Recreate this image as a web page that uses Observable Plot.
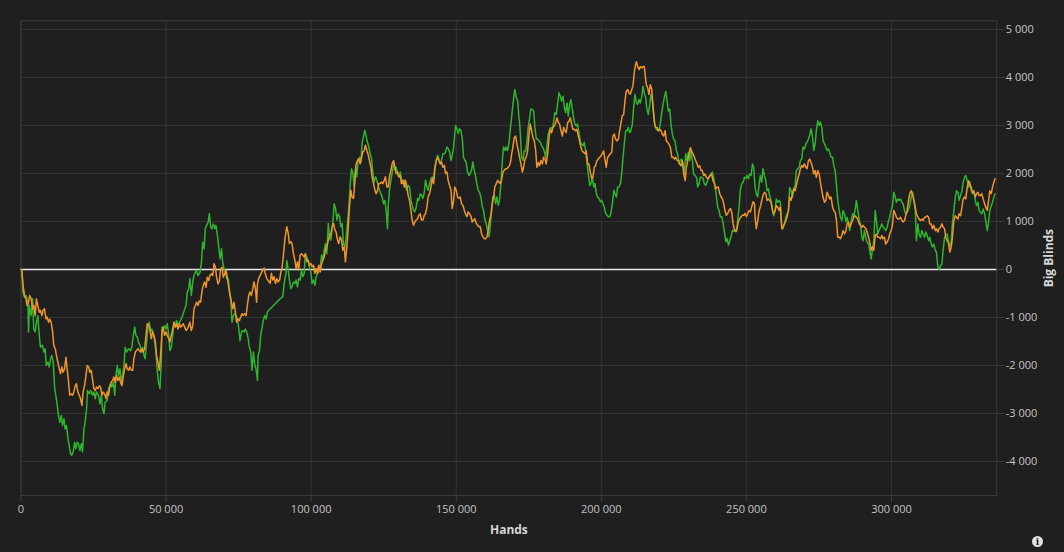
<!DOCTYPE html>
<html>
<head>
<meta charset="utf-8">
<script src="https://cdn.jsdelivr.net/npm/d3@7"></script>
<script src="https://cdn.jsdelivr.net/npm/@observablehq/plot@0.6"></script>
<style>
  html, body { margin: 0; padding: 0; background: #1f1f1f; }
  #chart svg { display: block; }
</style>
</head>
<body>
<div id="chart"></div>
<script>
const xTicks = [0, 50000, 100000, 150000, 200000, 250000, 300000];
const yTicks = [-4000, -3000, -2000, -1000, 0, 1000, 2000, 3000, 4000, 5000];
const xLabel = "Hands";
const yLabel = "Big Blinds";

const greenHands = [0,300,700,1200,1700,2400,2600,2900,3500,4000,4400,4900,5300,5800,6300,6700,7400,7900,8300,8700,9300,9700,10200,10600,11100,11600,12000,12500,12900,13400,13900,14300,14800,15200,15700,16200,16600,17100,17500,18000,18500,18900,19400,19800,20300,20800,21200,21700,22100,22600,22900,23500,24000,24700,25100,25600,26000,26700,27200,27700,28100,28600,29000,29700,30200,30900,31300,31800,32300,32700,33200,33600,34100,34600,35000,35500,35900,36400,37100,37800,38200,38700,39200,39600,40100,40500,41000,41500,41900,42400,42800,43300,43800,44200,44700,45100,45600,46100,46500,47000,47400,47900,48400,48600,49000,49500,50000,50400,50900,51300,51800,52300,52700,53200,53600,54100,54600,55000,55500,55900,56400,56900,57300,57800,58200,58700,59200,59600,60100,60500,61000,61700,62200,62600,63100,63500,64000,64500,64900,65400,65800,66300,66800,67200,67700,68100,68600,69100,69500,70000,70400,70900,71400,71800,72300,72700,73200,73700,74100,74600,75000,75500,76000,76400,76900,77300,77800,78300,78700,79200,79600,80100,80600,81000,81500,81700,82200,82600,83100,83500,84000,84500,84900,85400,
89500,90200,90700,91300,91600,92100,92500,93000,93400,93900,94400,94800,95300,95700,96200,96700,97100,97600,98000,98500,99000,99400,99900,100300,100800,101300,101700,102200,102600,103100,103600,104000,104500,104900,105400,105900,106300,106800,107200,107700,107900,108400,108900,109300,109800,110200,110700,111100,111600,112100,112500,113000,113400,113900,114400,114800,115300,115700,116200,116700,117100,117600,118000,118500,119000,119400,119900,120300,120800,121300,121700,122200,122600,123100,123600,124000,124500,124900,125400,125900,126300,126600,127000,127500,127900,128400,128900,129300,129800,130200,130700,131100,131600,132100,132500,133000,133400,133900,134400,134800,135300,135700,136200,136700,137100,137600,138000,138500,139000,139400,139900,140300,140800,141300,141700,142200,142600,143100,143600,144000,144500,144900,145400,145900,146300,146800,147200,147700,148200,148600,149100,149500,149800,150200,150700,151100,151600,152100,152500,153000,153400,153900,154400,154800,155300,155700,156200,156700,157100,157600,158000,158500,159000,159400,159900,160300,160800,161300,161700,162200,162600,163100,163600,164000,164500,164900,165400,165900,166300,166800,167200,167700,168200,168600,
169300,169800,170200,170700,171200,171600,171800,172100,172500,173000,173400,173900,174400,174800,175300,175700,176200,176700,177100,177600,178000,178500,179000,179400,179900,180300,180800,181300,181700,182200,182600,183100,183600,184000,184500,184900,185400,185900,186300,186800,187200,187700,188200,188600,189100,189500,190000,190500,190900,191400,191800,192300,192800,193200,193700,194100,194600,195100,195500,196000,196400,196900,197400,197800,198300,198700,199200,199700,200100,200600,201000,201500,202000,202400,202900,203300,203800,204300,204700,205200,205600,206100,206600,207000,207500,207900,208400,208900,209300,209800,210200,210700,211100,211600,212100,212500,213000,213400,213900,214400,214800,215300,215700,216200,216700,217100,217600,218000,218500,219000,219400,219900,220300,220800,221300,221700,222200,222600,223100,223600,224000,224500,224900,225400,225900,226300,226800,227200,227700,228200,228600,229100,229500,230000,230500,230900,231400,231800,232300,232800,233200,233700,234100,234600,235100,235500,236000,236400,236900,237400,237800,238300,238700,239200,239700,240100,240600,241000,241500,242000,242400,242900,243300,243800,244300,244700,245200,245600,246100,246600,247000,247500,247900,248400,248900,249300,249800,250200,250700,251100,251600,252100,252500,
253000,253400,253900,254400,254800,255300,255700,256200,256700,257100,257600,258000,258500,259000,259400,259900,260300,260800,261300,261700,262200,262600,263100,263600,264000,264500,264900,265400,265900,266300,266800,267200,267700,268200,268600,269100,269500,270000,270500,270900,271400,271800,272300,272800,273200,273700,274100,274600,275100,275500,276000,276400,276900,277400,277800,278300,278700,279200,279700,280100,280600,281000,281500,282000,282400,282900,283300,283800,284300,284700,285200,285600,286100,286600,287000,287500,287900,288400,288900,289300,289800,290200,290700,291200,291600,292100,292500,293000,293400,293900,294400,294800,295300,295700,296200,296700,297100,297600,298000,298500,299000,299400,299900,300300,300800,301300,301700,302200,302600,303100,303600,304000,304500,304900,305400,305900,306300,306800,307200,307700,308200,308600,309100,309500,310000,310500,310900,311400,311800,312300,312800,313200,313700,314100,314600,315100,315500,316000,316400,316900,317400,317800,318300,318700,319200,319700,320100,320600,321000,321500,322000,322400,322900,323300,323800,324300,324700,325200,325600,326100,326600,327000,327500,327900,328400,328900,329300,329800,330200,330700,331100,331600,332100,332500,333000,333400,333900,334400,334800,335300,335700];

const greenBB = [0,-20,-470,-580,-540,-680,-1300,-750,-960,-610,-1240,-1300,-1100,-960,-1370,-1620,-1580,-1720,-1650,-2000,-1930,-2030,-1860,-1790,-1930,-2480,-2620,-2830,-3040,-3180,-3040,-3250,-3110,-3320,-3250,-3530,-3660,-3840,-3870,-3800,-3600,-3730,-3600,-3630,-3770,-3630,-3800,-3320,-3180,-2900,-2520,-2590,-2520,-2620,-2550,-2690,-2550,-2620,-2800,-2620,-2900,-3000,-2760,-2730,-2480,-2380,-2450,-2350,-2620,-2210,-2000,-2210,-2070,-2350,-2210,-2000,-1620,-1720,-1650,-1690,-1620,-1370,-1200,-1370,-1410,-1510,-1580,-1720,-1620,-1790,-1860,-1510,-1170,-1100,-1300,-1240,-1340,-1510,-1720,-2140,-2350,-2480,-1860,-1200,-1240,-1170,-1240,-1130,-1370,-1690,-1620,-1370,-1100,-1200,-1060,-1170,-1100,-1060,-990,-920,-820,-750,-470,-400,-190,-540,-260,-125,-60,-20,-125,-60,150,570,430,850,920,990,1160,880,850,950,850,920,710,500,220,430,150,10,-60,-190,-190,-400,-610,-1100,-960,-920,-960,-1030,-1200,-1480,-1300,-1270,-1300,-1240,-1300,-1440,-1620,-1720,-2100,-1720,-2000,-2070,-2310,-1790,-1690,-1370,-1200,-1060,-960,-1030,-890,-850,
-600,-570,-290,-80,190,-10,-220,-400,-360,-260,-290,-220,-360,-190,-220,-10,-150,-80,330,260,160,55,-50,-290,-220,-330,-150,-80,-50,55,300,190,400,540,330,960,680,610,820,1160,1370,1270,1030,1160,1100,890,960,540,470,680,960,1300,1720,2100,2000,1720,2130,1930,2270,2340,2240,2650,2760,2900,2760,2650,2550,2410,2310,2000,1820,1930,1860,1750,1650,1580,1510,1370,1440,1200,850,1370,1650,1860,2000,2200,2070,2130,2000,1930,2030,1890,1790,1860,1720,1650,1750,1720,1440,1340,1230,1200,1300,1480,1440,1580,1550,1480,1610,1860,1720,1650,1790,1890,1930,1860,2130,2270,2380,2310,2200,2270,2410,2410,2450,2550,2520,2450,2270,2380,2550,2830,3000,2930,2830,2930,2900,2720,2340,2270,2240,2030,1960,2000,2070,2240,2070,1930,1790,1650,1610,1510,1300,1230,1030,960,820,680,890,1230,1510,1550,1370,1510,1340,1440,1790,2270,2550,2480,2550,2480,2650,2900,
3300,3580,3750,3580,3510,3160,3090,2820,2340,2270,2470,2470,2680,2960,3160,3340,3340,3300,2960,2720,2720,2680,2650,2580,2540,2470,2340,2610,2820,2920,2960,2920,3090,3270,3230,3440,3680,3610,3510,3610,3400,3270,3470,3200,3440,3540,3340,3130,3030,2990,3030,2850,2650,2610,2580,2650,2470,2200,1990,1750,1790,1920,1720,1790,1580,1510,1480,1410,1440,1370,1300,1170,1130,1100,1100,1170,1370,1650,1580,1510,1720,1720,1790,1990,2340,2610,2890,2890,2960,2850,2890,3030,3340,3650,3470,3440,3540,3470,3580,3820,3680,3580,3340,3230,3440,3650,3540,3300,2990,2920,2890,2890,3030,3270,3440,3580,3710,3540,3300,3340,3030,2820,2720,2680,2470,2410,2200,2270,2300,2200,1990,2410,2270,2440,2270,2470,2270,1990,1960,1920,1720,1790,1920,1920,1890,1790,1750,1820,1890,1960,1990,2030,1920,1720,1510,1300,1230,1100,1100,960,790,580,650,510,610,680,820,790,820,790,1030,1300,1650,1790,1820,1920,1890,1960,1890,1990,1960,2200,2130,
1710,1580,1510,1780,1960,1820,2100,1960,1850,1640,1680,1540,1440,1230,1120,1230,1470,1400,1440,1400,880,850,950,1090,1160,1230,1710,1640,1510,1680,1750,2060,2100,2130,2270,2300,2550,2510,2620,2650,2720,2790,2930,2760,2480,2620,2890,3100,3000,3070,2960,2690,2620,2550,2480,2510,2440,2340,2340,2170,2060,1780,1440,1230,1090,1020,1230,1160,990,1090,950,810,1020,1160,1090,1260,1440,1230,1020,950,670,600,810,640,570,530,400,220,400,600,1230,1020,740,810,880,950,880,850,810,880,1020,1090,1230,1300,1610,1510,1400,1470,1440,1470,1400,1370,1230,1160,1190,1260,1330,1510,1610,1470,1230,600,950,740,670,810,740,670,780,710,600,670,530,470,530,400,360,50,0,80,120,400,670,710,740,570,470,600,950,1230,1510,1640,1610,1440,1540,1640,1820,1920,1960,1850,1710,1820,1640,1580,1610,1440,1330,1400,1230,1190,1160,1260,1160,1020,810,950,1230,1330,1400,1510,1580];

const orangeHands = [0,300,700,1200,1700,2100,2600,3000,3500,4000,4400,4900,5300,5800,6300,6700,7200,7600,8100,8600,9000,9500,9900,10400,10900,11300,11800,12200,12700,13200,13600,14100,14500,15000,15500,15900,16400,16800,17300,17800,18200,18700,19100,19600,20100,20500,21000,21400,21900,22400,22800,23300,23700,24200,24700,25100,25600,26000,26500,27000,27400,27900,28300,28800,29300,29700,30200,30600,31100,31600,32000,32500,32900,33400,33900,34300,34800,35200,35700,36200,36600,37100,37500,38000,38500,38900,39400,39800,40300,40800,41200,41700,42100,42600,43100,43500,44000,44400,44900,45400,45800,46300,46700,47200,47700,48100,48600,49000,49500,50000,50400,50900,51300,51800,52300,52700,53200,53600,54100,54600,55000,55500,55900,56400,56900,57300,57800,58200,58700,59200,59600,60100,60500,61000,61500,61900,62400,62800,63300,63800,64200,64700,65100,65600,66100,66500,67000,67400,67900,68400,68800,69300,69700,70200,70700,71100,71600,72000,72500,73000,73400,73900,74300,74800,75300,75700,76200,76600,77100,77600,78000,78500,78900,79400,79900,80300,80800,81200,81500,81900,82400,82900,83300,83800,84200,84700,85200,
85900,86300,86800,87200,87700,88200,88600,89100,89500,90000,90500,90900,91400,91600,92100,92500,93000,93400,93900,94400,94800,95300,95700,96200,96700,97100,97600,98000,98500,99000,99400,99900,100300,100800,101300,101700,102200,102600,103100,103600,104000,104500,104900,105400,105900,106300,106800,107200,107700,108200,108600,109100,109500,110000,110500,110900,111400,111800,112300,112800,113200,113700,114100,114600,115100,115500,116000,116400,116900,117400,117800,118300,118700,119200,119700,120100,120600,121000,121500,122000,122400,122900,123300,123800,124300,124700,125200,125600,126100,126600,127000,127500,127900,128400,128900,129300,129800,130200,130700,131100,131600,132100,132500,133000,133400,133900,134400,134800,135300,135700,136200,136700,137100,137600,138000,138500,139000,139400,139900,140300,140800,141300,141700,142200,142600,143100,143600,144000,144500,144900,145400,145900,146300,146800,147200,147700,148200,148600,149100,149500,150000,150500,150900,151400,151800,152300,152800,153200,153700,154100,154600,155100,155500,156000,156400,156900,157400,157800,158300,158700,159200,159700,160100,160600,161000,161500,162000,162400,162900,163300,163800,164300,164700,165200,165600,166100,166600,167000,167500,167900,168400,168800,
169100,169500,170000,170500,170900,171400,171800,172300,172800,173200,173700,174100,174600,175100,175500,176000,176400,176900,177400,177800,178300,178700,179200,179700,180100,180600,181000,181500,182000,182400,182900,183300,183800,184300,184700,185200,185600,186100,186600,187000,187500,187900,188400,188900,189300,189800,190200,190700,191100,191600,192100,192500,193000,193400,193900,194400,194800,195300,195700,196200,196700,197100,197600,198000,198500,199000,199400,199900,200300,200800,201300,201700,202200,202600,203100,203600,204000,204500,204900,205400,205900,206300,206800,207200,207700,208200,208600,209100,209500,210000,210500,210900,211400,211800,212100,212500,213000,213400,213900,214400,214800,215100,215500,216000,216400,216900,217400,217800,218300,218700,219200,219700,220100,220600,221000,221500,222000,222400,222900,223300,223800,224300,224700,225200,225600,226100,226600,227000,227500,227900,228400,228900,229300,229800,230200,230700,231100,231600,232100,232500,233000,233400,233900,234400,234800,235300,235700,236200,236700,237100,237600,238000,238500,239000,239400,239900,240300,240800,241300,241700,242200,242600,243100,243600,244000,244500,245000,245400,245900,246300,246800,247200,247700,248200,248600,249100,249500,250000,250500,250900,251400,251800,252300,252800,
253000,253400,253900,254400,254800,255300,255700,256200,256700,257100,257600,258000,258500,259000,259400,259900,260300,260800,261300,261700,262200,262600,263100,263600,264000,264500,264900,265400,265900,266300,266800,267200,267700,268200,268600,269100,269500,270000,270500,270900,271400,271800,272300,272800,273200,273700,274100,274600,275100,275500,276000,276400,276900,277400,277800,278300,278700,279200,279700,280100,280600,281000,281500,282000,282400,282900,283300,283800,284300,284700,285200,285600,286100,286600,287000,287500,287900,288400,288900,289300,289800,290200,290700,291200,291600,292100,292500,293000,293400,293900,294400,294800,295300,295700,296200,296700,297100,297600,298000,298500,299000,299400,299900,300300,300800,301300,301700,302200,302600,303100,303600,304000,304500,304900,305400,305900,306300,306800,307200,307700,308200,308600,309100,309500,310000,310500,310900,311400,311800,312300,312800,313200,313700,314100,314600,315100,315500,316000,316400,316900,317400,317800,318300,318700,319200,319700,320100,320600,321000,321500,322000,322400,322900,323300,323800,324300,324700,325200,325600,326100,326600,327000,327500,327900,328400,328900,329300,329800,330200,330700,331100,331600,332100,332500,333000,333400,333900,334400,334800,335300,335700];

const orangeBB = [0,-20,-330,-540,-610,-750,-680,-540,-610,-820,-750,-960,-610,-750,-890,-850,-960,-850,-820,-1030,-990,-1100,-1030,-1100,-1300,-1580,-1650,-1790,-1930,-2070,-2170,-2030,-2140,-2070,-1830,-2070,-2350,-2620,-2590,-2620,-2550,-2420,-2380,-2550,-2620,-2690,-2830,-2550,-2420,-2210,-2000,-2030,-2140,-2100,-2310,-2480,-2520,-2450,-2480,-2420,-2450,-2620,-2550,-2590,-2690,-2550,-2620,-2450,-2350,-2310,-2240,-2350,-2210,-2310,-2240,-2350,-2420,-2240,-2070,-1960,-2070,-2100,-2030,-2100,-2100,-1860,-1720,-1690,-1650,-1690,-1720,-1650,-1720,-1650,-1370,-1130,-1170,-1240,-1440,-1300,-1370,-1510,-1790,-1930,-2100,-1790,-1300,-1200,-1370,-1300,-1370,-1440,-1510,-1370,-1240,-1100,-1200,-1130,-1240,-1130,-1200,-1170,-1130,-1200,-1270,-1240,-1170,-1100,-1270,-1170,-820,-750,-680,-750,-650,-680,-440,-330,-260,-370,-160,-230,-125,-90,-125,120,50,-160,-300,-230,10,50,-160,-90,-20,-190,-370,-540,-680,-820,-680,-890,-1100,-1030,-1060,-990,-920,-960,-920,-960,-750,-540,-470,-540,-400,-260,-400,-680,-300,-190,-125,-60,-20,30,-90,-190,-230,
-290,-80,-220,-150,-290,-190,-260,-220,-80,55,330,610,820,890,750,540,580,540,330,190,20,160,-10,300,330,300,260,330,160,190,90,125,55,90,-80,20,-80,90,-50,125,190,260,400,470,610,680,750,890,960,820,780,610,540,680,610,400,470,160,470,890,1300,1650,1510,1480,1860,2200,2270,2310,2200,2340,2450,2480,2590,2480,2380,2270,2130,1930,1790,1650,1580,1650,1790,1790,1820,1790,1860,1930,1720,1720,1930,2070,2200,2270,2130,2000,2030,1930,1960,1790,1860,1720,1860,1720,1550,1440,1230,1030,920,990,1030,1060,1130,1160,1030,1030,1130,1160,1300,1510,1580,1720,1890,1790,2070,2270,2340,2270,2200,2240,2130,2170,2000,2030,1860,1750,1650,1270,1440,1720,1650,1510,1480,1510,1370,1340,1230,1160,1100,1200,1160,1100,990,1030,1060,960,920,890,890,750,680,640,640,680,820,1030,1160,1370,1510,1720,1790,1860,1820,1790,1860,2030,2070,2100,2100,2130,2170,2270,
2410,2540,2750,2780,2610,2470,2340,2200,2030,2130,2300,2340,2470,2820,3030,2890,2750,2680,2470,2130,2230,2160,2270,2200,2340,2300,2200,2410,2750,2920,2850,2960,2990,3060,3160,3060,3030,2890,2780,2960,2890,2850,3060,3090,3160,3030,2920,2920,2890,2920,2780,2680,2540,2470,2440,2410,2470,2200,2200,2030,1890,1920,2130,2160,2270,2300,2340,2370,2410,2470,2270,2130,2340,2370,2410,2440,2780,2820,2720,2680,2720,2890,3060,3200,3230,3540,3710,3750,3680,3650,3750,3820,4130,4270,4330,4230,4160,4230,4200,4230,4230,4060,3850,3780,3650,3850,3750,3370,3060,2960,2960,2890,2920,2890,2820,2780,2890,2680,2650,2610,2540,2340,2340,2300,2340,2270,2270,2200,2160,2270,1990,1850,2130,2270,2410,2540,2470,2410,2340,2270,2200,2130,2160,2060,2060,1960,1990,1920,1890,1920,1960,1990,1850,1790,1680,1720,1720,1580,1510,1480,1370,1230,1130,1170,1230,1270,1170,960,820,790,860,990,1060,1100,1130,1130,1170,1100,1170,1230,1200,1300,1410,1370,
1090,850,1020,1230,1300,1440,1540,1610,1580,1440,1470,1440,1400,1230,1160,1230,1330,1300,1230,1300,850,880,950,1020,1090,1230,1510,1440,1580,1680,1640,1750,1890,1990,2100,2170,2130,2200,2130,2100,2270,2300,2230,2130,1990,2060,1920,2060,1990,1820,1640,1510,1400,1440,1610,1540,1470,1510,1300,1230,1190,1050,670,670,640,710,810,740,810,950,990,880,950,1020,1090,1120,1090,1050,950,920,880,920,880,850,780,670,570,400,470,400,710,740,670,670,640,710,640,670,530,570,640,740,810,920,1230,1160,1090,1050,1050,1090,1020,990,1020,1120,1230,1440,1580,1640,1580,1440,1300,1160,1090,1050,1020,1050,1020,1090,1090,1120,1090,950,950,850,920,810,850,780,850,880,950,880,850,670,600,530,360,470,670,1020,1120,1090,1050,1160,1120,1300,1470,1510,1470,1710,1850,1780,1710,1610,1640,1510,1580,1610,1540,1540,1580,1470,1370,1300,1230,1400,1640,1580,1710,1820,1890];

const green = greenHands.map((h, i) => ({hands: h, bb: greenBB[i]}));
const orange = orangeHands.map((h, i) => ({hands: h, bb: orangeBB[i]}));

const loc = d3.formatLocale({decimal: ".", thousands: "\u00a0", grouping: [3], currency: ["", ""], minus: "-"});
const fmt = loc.format(",d");

const gridColor = "#333333";
const frameColor = "#3b3b3b";
const textColor = "#c4c4c4";

const plot = Plot.plot({
  width: 1064,
  height: 552,
  marginLeft: 20.5,
  marginRight: 67.7,
  marginTop: 20.3,
  marginBottom: 57,
  style: {background: "#1f1f1f", color: textColor, fontFamily: "'Open Sans', 'Noto Sans', sans-serif", fontSize: "11px"},
  x: {domain: [0, 336300]},
  y: {domain: [-4708, 5181]},
  marks: [
    Plot.gridX(xTicks, {stroke: gridColor, strokeOpacity: 1}),
    Plot.gridY(yTicks, {stroke: gridColor, strokeOpacity: 1}),
    Plot.frame({stroke: frameColor}),
    Plot.axisX(xTicks, {tickSize: 7, tickPadding: 3, tickFormat: fmt, stroke: frameColor, fill: textColor, label: null}),
    Plot.axisY(yTicks, {anchor: "right", tickSize: 7, tickPadding: 2, tickFormat: fmt, stroke: frameColor, fill: textColor, label: null}),
    Plot.ruleY([0], {stroke: "#e8e8e8", strokeWidth: 1.5}),
    Plot.line(green, {x: "hands", y: "bb", stroke: "#2fb52f", strokeWidth: 1.5}),
    Plot.line(orange, {x: "hands", y: "bb", stroke: "#f0952c", strokeWidth: 1.5}),
    Plot.text([xLabel], {text: d => d, frameAnchor: "bottom", dy: 38, fontWeight: "bold", fontSize: 12, fill: "#d6d6d6"}),
    Plot.text([yLabel], {text: d => d, frameAnchor: "right", textAnchor: "middle", dx: 52, rotate: -90, fontWeight: "bold", fontSize: 12, fill: "#d6d6d6"})
  ]
});

document.getElementById("chart").appendChild(plot);

// info icon (decoration)
const svg = d3.select(plot);
const g = svg.append("g").attr("transform", "translate(1037.5,541.5)");
g.append("circle").attr("r", 5.5).attr("fill", "#e2e2e2");
g.append("text").attr("text-anchor", "middle").attr("dy", "0.35em").attr("font-size", 9).attr("font-weight", "bold")
  .attr("font-family", "'DejaVu Serif', serif").attr("fill", "#1f1f1f").text("i");
</script>
</body>
</html>
